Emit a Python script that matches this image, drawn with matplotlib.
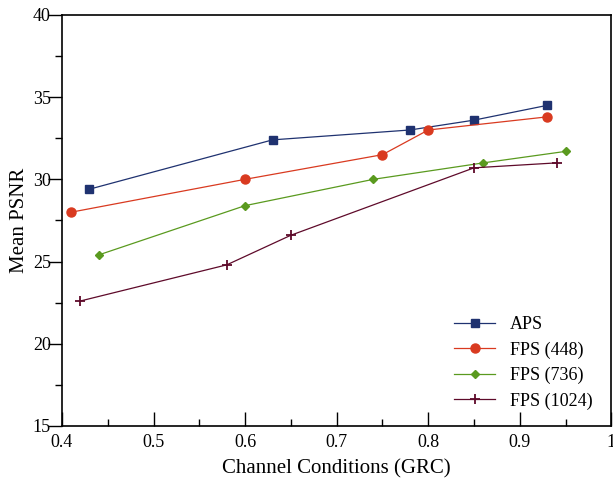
import matplotlib
matplotlib.use('Agg')
import matplotlib.pyplot as plt
from matplotlib.ticker import MultipleLocator

plt.rcParams['font.family'] = ['Liberation Serif', 'DejaVu Serif']

# Data
aps_x = [0.43, 0.63, 0.78, 0.85, 0.93]
aps_y = [29.4, 32.4, 33.0, 33.6, 34.5]

fps448_x = [0.41, 0.60, 0.75, 0.80, 0.93]
fps448_y = [28.0, 30.0, 31.5, 33.0, 33.8]

fps736_x = [0.44, 0.60, 0.74, 0.86, 0.95]
fps736_y = [25.4, 28.4, 30.0, 31.0, 31.7]

fps1024_x = [0.42, 0.58, 0.65, 0.85, 0.94]
fps1024_y = [22.6, 24.8, 26.6, 30.7, 31.0]

x_ticks = [0.4, 0.5, 0.6, 0.7, 0.8, 0.9, 1.0]
x_ticklabels = ['0.4', '0.5', '0.6', '0.7', '0.8', '0.9', '1']

fig = plt.figure(figsize=(6.13, 4.8), dpi=100)
ax = fig.add_axes([0.101, 0.1125, 0.8965, 0.8565])

ax.plot(aps_x, aps_y, color='#1f3270', marker='s', markersize=6, linewidth=0.9, label='APS')
ax.plot(fps448_x, fps448_y, color='#d93a20', marker='o', markersize=6.5, linewidth=0.9, label='FPS (448)')
ax.plot(fps736_x, fps736_y, color='#5a9a1f', marker='D', markersize=4.5, linewidth=0.9, label='FPS (736)')
ax.plot(fps1024_x, fps1024_y, color='#5e0a2a', marker='+', markersize=7, markeredgewidth=1.3,
        linewidth=0.9, label='FPS (1024)')

ax.set_xlim(0.4, 1.0)
ax.set_ylim(15, 40)
ax.set_xticks(x_ticks)
ax.set_xticklabels(x_ticklabels)
ax.xaxis.set_minor_locator(MultipleLocator(0.05))
ax.yaxis.set_major_locator(MultipleLocator(5))
ax.yaxis.set_minor_locator(MultipleLocator(2.5))

ax.tick_params(axis='x', which='major', direction='in', length=10, width=1, labelsize=13, pad=6)
ax.tick_params(axis='x', which='minor', direction='in', length=5, width=1)
ax.tick_params(axis='y', which='major', direction='out', length=10, width=1, labelsize=13, pad=-2)
ax.tick_params(axis='y', which='minor', direction='out', length=5, width=1)

for s in ax.spines.values():
    s.set_linewidth(1.2)

ax.set_xlabel('Channel Conditions (GRC)', fontsize=15, labelpad=6)
ax.set_ylabel('Mean PSNR', fontsize=15, labelpad=3)

ax.legend(loc='lower right', frameon=False, fontsize=13, handlelength=2.3,
          labelspacing=0.45, bbox_to_anchor=(0.995, 0.0))

fig.savefig('out.png', dpi=100)
